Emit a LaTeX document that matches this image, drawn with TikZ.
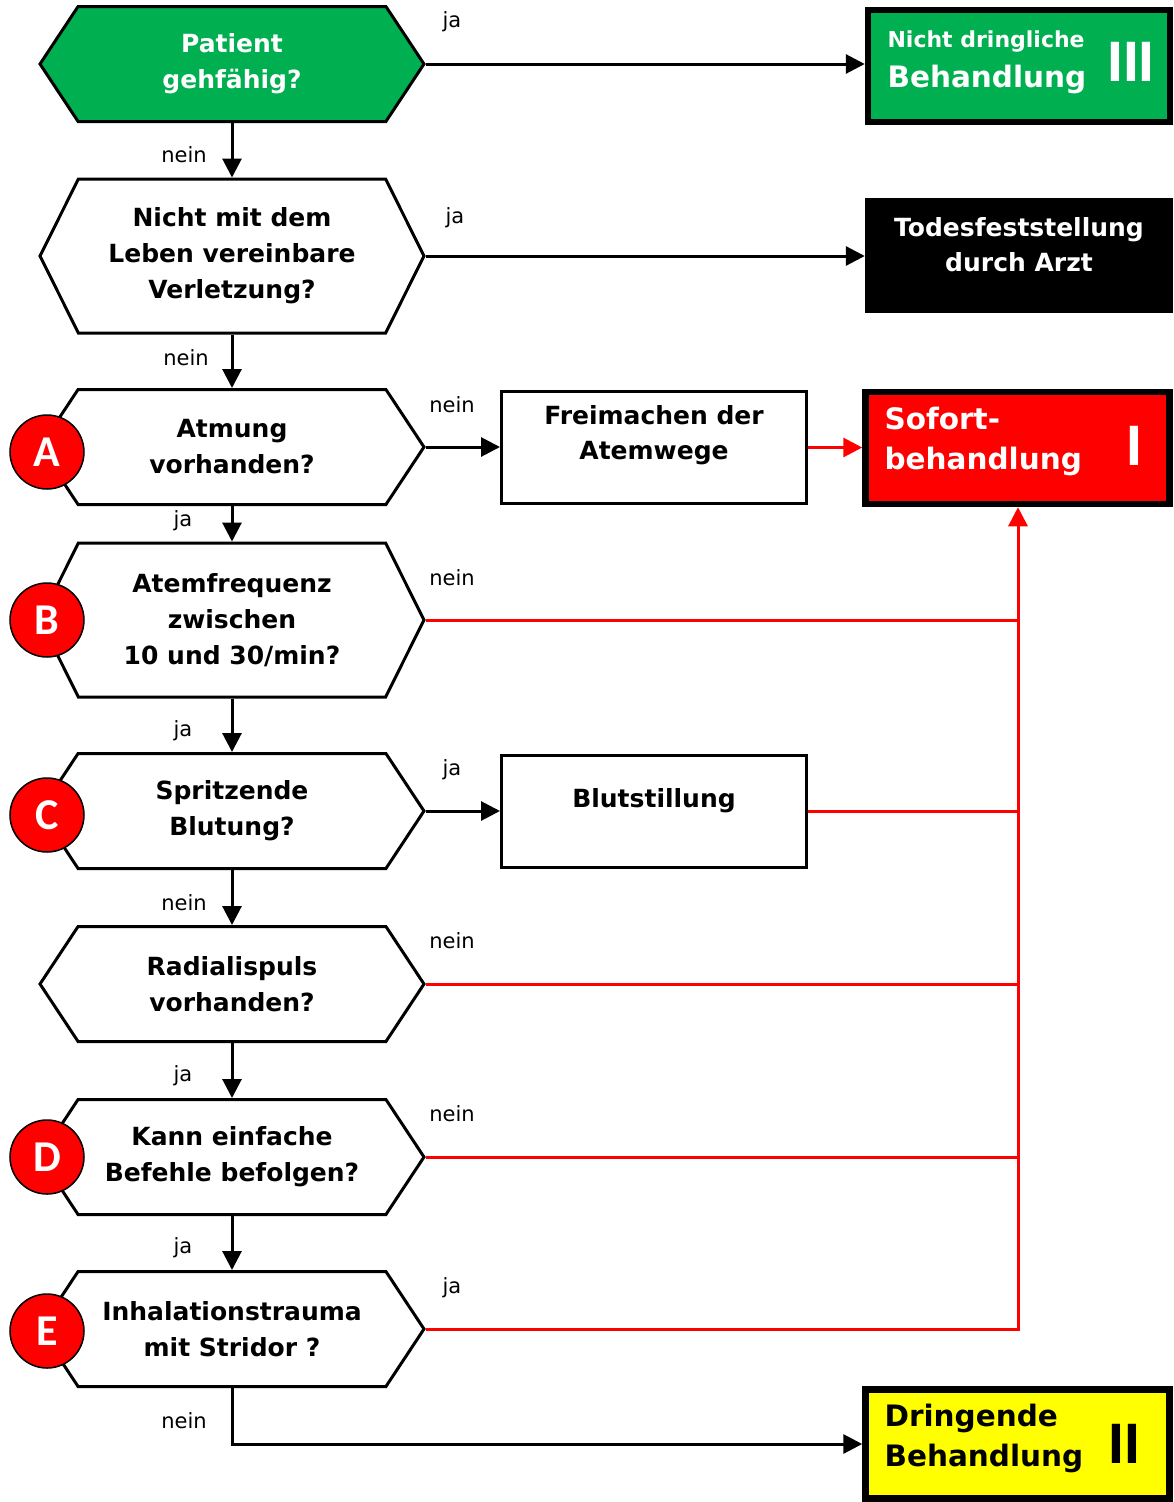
\documentclass[tikz,border=0pt]{standalone}
\usepackage{fontspec}
\setmainfont{DejaVu Sans}
\newfontfamily\letterfont{Carlito}
\newfontfamily\numfont{Liberation Sans}
\usetikzlibrary{shapes.symbols,arrows.meta}

\definecolor{triagegreen}{RGB}{0,176,80}
\definecolor{triagered}{RGB}{255,0,0}
\definecolor{triageyellow}{RGB}{255,255,0}

\begin{document}
\begin{tikzpicture}[x=1pt,y=-1pt,
    question/.style={signal, signal to=west and east, draw, line width=3pt, fill=white,
        minimum width=384pt, minimum height=115pt, signal pointer angle=113,
        inner sep=0pt, align=center, font=\fontsize{25}{36}\selectfont\bfseries},
    tallq/.style={minimum height=154pt, signal pointer angle=127},
    tag/.style={circle, draw, line width=1.5pt, fill=triagered, minimum size=74pt, inner sep=0pt,
        text=white, font=\fontsize{44}{44}\letterfont\bfseries},
    action/.style={rectangle, draw, line width=3pt, minimum width=305pt, minimum height=112pt},
    result/.style={rectangle, draw, line width=6.5pt, minimum width=304pt, minimum height=112pt},
    boxtext/.style={align=center, font=\fontsize{25}{35}\selectfont\bfseries},
    restext/.style={anchor=west, align=left, font=\fontsize{29.5}{40}\selectfont\bfseries},
    numeral/.style={font=\fontsize{57}{57}\numfont\bfseries},
    lbl/.style={font=\fontsize{21}{21}\selectfont},
    flow/.style={line width=3pt, -{Triangle[length=19pt,width=19pt]}},
    alarm/.style={line width=3pt, triagered},
]
    \useasboundingbox (0,0) rectangle (1173,1502);

    % Questions
    \node[question, fill=triagegreen, text=white] (walk) at (232,64) {Patient\\gehfähig?};
    \node[question, tallq] (fatal) at (232,256) {Nicht mit dem\\Leben vereinbare\\Verletzung?};
    \node[question] (breath) at (232,447) {Atmung\\vorhanden?};
    \node[question, tallq] (rate) at (232,620) {Atemfrequenz\\zwischen\\10 und 30/min?};
    \node[question] (bleed) at (232,811) {Spritzende\\Blutung?};
    \node[question] (pulse) at (232,984) {Radialispuls\\vorhanden?};
    \node[question] (orders) at (232,1157) {Kann einfache\\Befehle befolgen?};
    \node[question] (inhal) at (232,1329) {Inhalationstrauma\\mit Stridor ?};

    % ABCDE tags
    \node[tag] (tagA) at (47,452) {A};
    \node[tag] (tagB) at (47,620) {B};
    \node[tag] (tagC) at (47,815) {C};
    \node[tag] (tagD) at (47,1157) {D};
    \node[tag] (tagE) at (47,1331) {E};

    % Measures
    \node[action] (airway) at (654,447.5) {};
    \node[boxtext] (airwaytxt) at ([yshift=12pt]airway.center) {Freimachen der\\Atemwege};
    \node[action] (stop) at (654,811.5) {};
    \node[boxtext] (stoptxt) at ([yshift=11pt]stop.center) {Blutstillung};

    % Categories
    \node[result, fill=triagegreen, minimum width=302pt] (green) at (1019,66) {};
    \node[anchor=west, align=left, text=white, font=\bfseries] (greentxt) at (884,62)
        {\fontsize{22}{22}\selectfont Nicht dringliche\\[12pt]\fontsize{29.5}{29.5}\selectfont Behandlung};
    \node[numeral, text=white] (greennum) at (1131,62) {III};

    \node[rectangle, fill=black, minimum width=308pt, minimum height=115pt] (dead) at (1019,255.5) {};
    \node[boxtext, text=white] (deadtxt) at ([yshift=11pt]dead.center) {Todesfeststellung\\durch Arzt};

    \node[result, fill=triagered] (red) at (1017.5,448) {};
    \node[restext, text=white] (redtxt) at (881,441) {Sofort-\\behandlung};
    \node[numeral, text=white] (rednum) at (1134,446) {I};

    \node[result, fill=triageyellow, minimum height=109pt] (yellow) at (1017.5,1444) {};
    \node[restext] (yellowtxt) at (881,1438) {Dringende\\Behandlung};
    \node[numeral] (yellownum) at (1124,1444) {II};

    % Black connectors
    \draw[flow] (walk.east) -- (walk.east -| green.west);
    \draw[flow] (walk.south) -- (fatal.north);
    \draw[flow] (fatal.east) -- (fatal.east -| dead.west);
    \draw[flow] (fatal.south) -- (breath.north);
    \draw[flow] (breath.east) -- (breath.east -| airway.west);
    \draw[flow] (breath.south) -- (rate.north);
    \draw[flow] (rate.south) -- (bleed.north);
    \draw[flow] (bleed.east) -- (bleed.east -| stop.west);
    \draw[flow] (bleed.south) -- (pulse.north);
    \draw[flow] (pulse.south) -- (orders.north);
    \draw[flow] (orders.south) -- (inhal.north);
    \draw[flow] (inhal.south) |- (yellow.west);

    % Red connectors
    \coordinate (bus) at (1018,1329);
    \draw[alarm, -{Triangle[length=19pt,width=19pt]}] (airway.east) -- (airway.east -| red.west);
    \draw[alarm, -{Triangle[length=19pt,width=19pt]}] (inhal.east) -- (bus) -- (red.south -| bus);
    \draw[alarm] (rate.east) -- (rate.east -| bus);
    \draw[alarm] (stop.east) -- (stop.east -| bus);
    \draw[alarm] (pulse.east) -- (pulse.east -| bus);
    \draw[alarm] (orders.east) -- (orders.east -| bus);

    % Labels
    \node[lbl] (l1) at (452,22) {ja};
    \node[lbl] (l2) at (184,155) {nein};
    \node[lbl] (l3) at (455,218) {ja};
    \node[lbl] (l4) at (186,358) {nein};
    \node[lbl] (l5) at (452,405) {nein};
    \node[lbl] (l6) at (183,521) {ja};
    \node[lbl] (l7) at (452,578) {nein};
    \node[lbl] (l8) at (183,731) {ja};
    \node[lbl] (l9) at (452,770) {ja};
    \node[lbl] (l10) at (184,903) {nein};
    \node[lbl] (l11) at (452,941) {nein};
    \node[lbl] (l12) at (183,1076) {ja};
    \node[lbl] (l13) at (452,1114) {nein};
    \node[lbl] (l14) at (183,1248) {ja};
    \node[lbl] (l15) at (452,1288) {ja};
    \node[lbl] (l16) at (184,1421) {nein};
\end{tikzpicture}
\end{document}
